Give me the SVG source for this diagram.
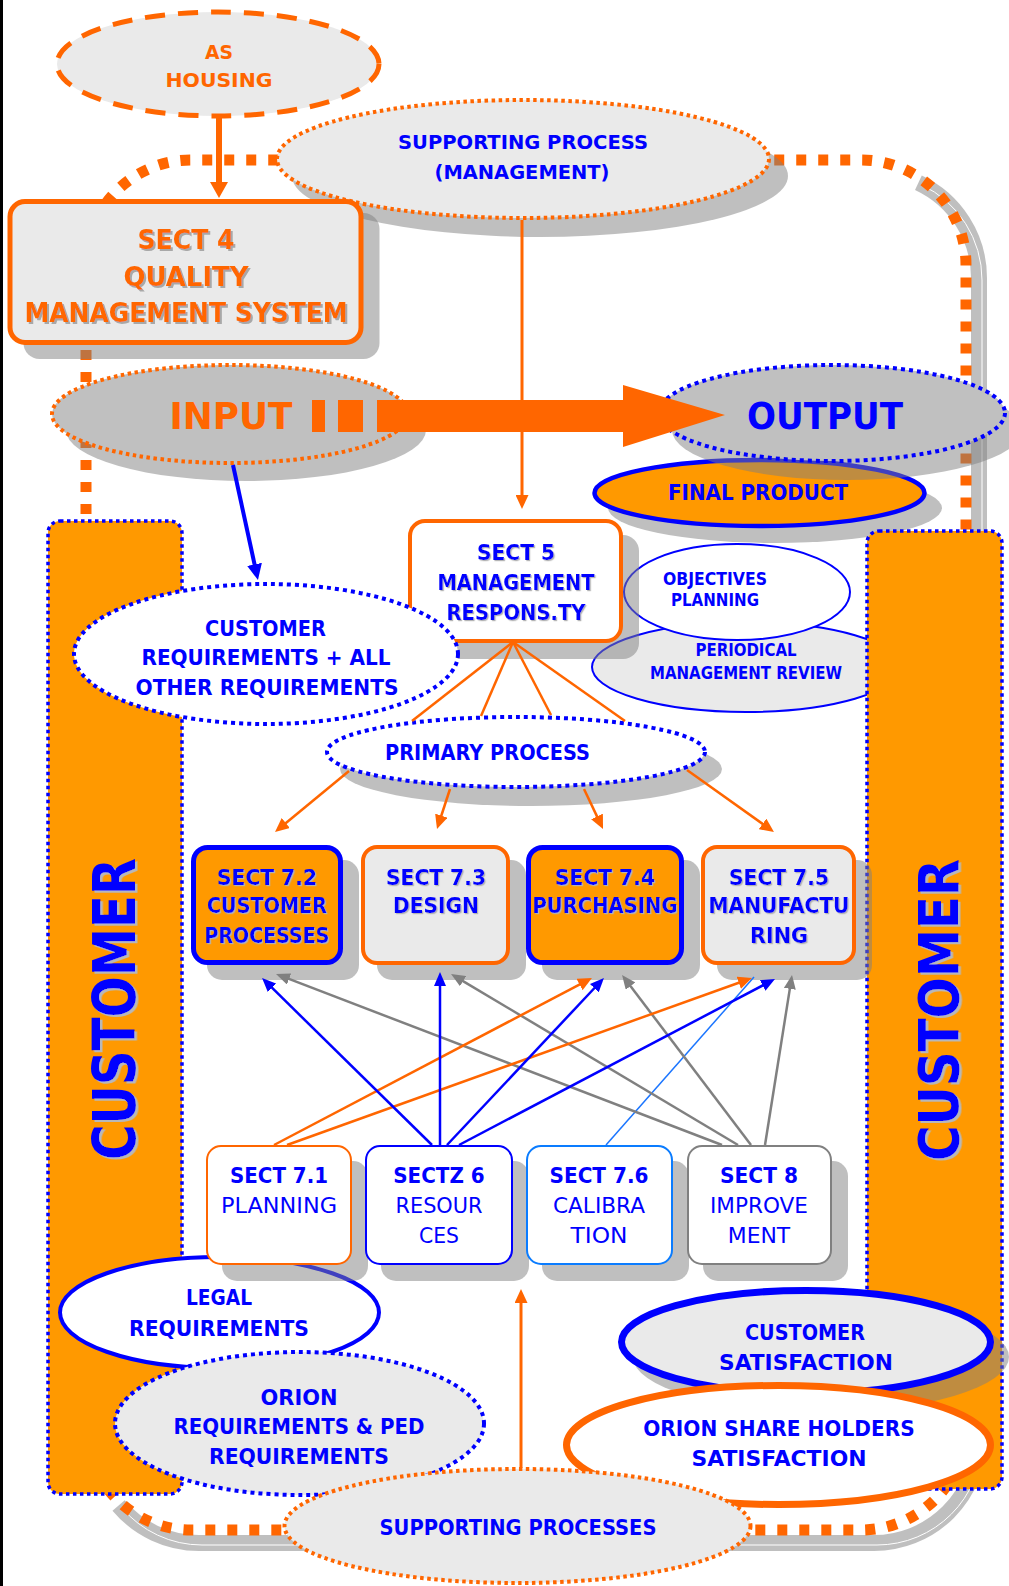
<svg xmlns="http://www.w3.org/2000/svg" width="1009" height="1586" viewBox="0 0 1009 1586">
<defs>
<style>
text{font-family:'DejaVu Sans','Liberation Sans',sans-serif;font-weight:bold;text-anchor:middle}
.reg{font-weight:normal}
.blue{fill:#0000ff}
.org{fill:#ff6600}
.shadow{fill:#808080;fill-opacity:.5}
.lt{fill:#eaeaea}
.wh{fill:#ffffff}
.bdot{stroke:#0000ff;stroke-width:4;stroke-dasharray:4 4}
.odot{stroke:#ff6600;stroke-width:4;stroke-dasharray:3.5 3.5}
.bar{fill:#ff9900;stroke:#0000ff;stroke-width:3.5;stroke-dasharray:3.5 3.5}
.ln{fill:none;stroke-width:2.5}
.lo{stroke:#ff6600}
.lb{stroke:#0000ff}
.lg{stroke:#808080}
</style>
<marker id="ahO" viewBox="0 0 14 13" refX="3" refY="6.5" markerWidth="14" markerHeight="13" markerUnits="userSpaceOnUse" orient="auto"><path d="M0,0L14,6.5L0,13z" fill="#ff6600"/></marker>
<marker id="ahB" viewBox="0 0 14 12" refX="3" refY="6" markerWidth="14" markerHeight="12" markerUnits="userSpaceOnUse" orient="auto"><path d="M0,0L14,6L0,12z" fill="#0000ff"/></marker>
<marker id="ahG" viewBox="0 0 14 12" refX="3" refY="6" markerWidth="14" markerHeight="12" markerUnits="userSpaceOnUse" orient="auto"><path d="M0,0L14,6L0,12z" fill="#808080"/></marker>
<marker id="ahOL" viewBox="0 0 16 18" refX="3" refY="9" markerWidth="16" markerHeight="18" markerUnits="userSpaceOnUse" orient="auto"><path d="M0,0L16,9L0,18z" fill="#ff6600"/></marker>
<marker id="ahBL" viewBox="0 0 16 15" refX="3" refY="7.5" markerWidth="16" markerHeight="15" markerUnits="userSpaceOnUse" orient="auto"><path d="M0,0L16,7.5L0,15z" fill="#0000ff"/></marker>
<filter id="tsh" x="-10%" y="-20%" width="130%" height="160%"><feDropShadow dx="2" dy="2" stdDeviation="0" flood-color="#a8a8a8"/></filter>
<filter id="tsh2" x="-10%" y="-20%" width="130%" height="160%"><feDropShadow dx="1.2" dy="1.2" stdDeviation="0" flood-color="#b4b4b4"/></filter>
<filter id="tsh3" x="-20%" y="-10%" width="150%" height="120%"><feDropShadow dx="2.5" dy="2" stdDeviation="0" flood-color="#b8b8b8"/></filter>
</defs>

<rect x="0" y="0" width="1009" height="1586" fill="#ffffff"/>
<rect x="0" y="0" width="3" height="1586" fill="#000000"/>

<!-- process loop: dotted ring with its shadow on the right and bottom -->
<g id="process-loop">
<path d="M918.4,182.8 A105,105 0 0 1 979,278 L979,1438 A105,105 0 0 1 874,1543 L199,1543 A105,105 0 0 1 118.6,1505.5" fill="none" stroke="#808080" stroke-opacity=".5" stroke-width="16"/>
<path d="M918.4,182.8 A105,105 0 0 1 979,278 L979,1438 A105,105 0 0 1 874,1543 L199,1543 A105,105 0 0 1 118.6,1505.5" fill="none" stroke="#ffffff" stroke-width="1" transform="translate(3,2)"/>
<path d="M86,265 A105,105 0 0 1 191,160 L861,160 A105,105 0 0 1 966,265 L966,1425 A105,105 0 0 1 861,1530 L191,1530 A105,105 0 0 1 86,1425 Z" fill="none" stroke="#ff6600" stroke-width="11" stroke-dasharray="10 12"/>
</g>

<g id="as-housing">
<ellipse cx="218" cy="64" rx="161" ry="52" class="lt" stroke="#ff6600" stroke-width="5" stroke-dasharray="20 13"/>
<text class="org" x="219" y="59" font-size="20" textLength="28" lengthAdjust="spacingAndGlyphs">AS</text>
<text class="org" x="219" y="87" font-size="20" textLength="107" lengthAdjust="spacingAndGlyphs">HOUSING</text>
</g>

<g id="supporting-process-management">
<ellipse class="shadow" cx="540" cy="176" rx="248" ry="61"/>
<ellipse cx="523" cy="159" rx="246" ry="59" class="lt odot"/>
<text class="blue" x="523" y="149" font-size="20" textLength="250" lengthAdjust="spacingAndGlyphs">SUPPORTING PROCESS</text>
<text class="blue" x="522" y="179" font-size="20" textLength="175" lengthAdjust="spacingAndGlyphs">(MANAGEMENT)</text>
</g>

<g id="sect4">
<rect class="shadow" x="23.5" y="213" width="356" height="146" rx="16"/>
<rect x="10" y="201.5" width="351" height="141" rx="15" class="lt" stroke="#ff6600" stroke-width="5"/>
<g filter="url(#tsh)">
<text class="org" x="186" y="249" font-size="27" textLength="97" lengthAdjust="spacingAndGlyphs">SECT 4</text>
<text class="org" x="186" y="286" font-size="27" textLength="125" lengthAdjust="spacingAndGlyphs">QUALITY</text>
<text class="org" x="186" y="322" font-size="27" textLength="323" lengthAdjust="spacingAndGlyphs">MANAGEMENT SYSTEM</text>
</g>
</g>

<g id="input">
<ellipse class="shadow" cx="246" cy="430" rx="180" ry="51"/>
<ellipse cx="230" cy="414" rx="178" ry="49" fill="#c0c0c0" class="odot"/>
<text class="org" x="231" y="428.5" font-size="37" textLength="123" lengthAdjust="spacingAndGlyphs">INPUT</text>
</g>

<g id="final-product">
<ellipse class="shadow" cx="775" cy="508" rx="167" ry="35"/>
<ellipse cx="759.5" cy="493" rx="165" ry="33" fill="#ff9900" stroke="#0000ff" stroke-width="4.5"/>
<text class="blue" x="758" y="499.5" font-size="21" textLength="180" lengthAdjust="spacingAndGlyphs">FINAL PRODUCT</text>
</g>

<g id="output">
<ellipse class="shadow" cx="847" cy="430" rx="175" ry="50"/>
<ellipse cx="832" cy="413" rx="173" ry="48" fill="#c0c0c0" class="bdot"/>
<text class="blue" x="825" y="428.5" font-size="37" textLength="156" lengthAdjust="spacingAndGlyphs">OUTPUT</text>
</g>

<g id="periodical-review">
<ellipse cx="746" cy="667" rx="154" ry="45" class="lt" stroke="#0000ff" stroke-width="2"/>
<text class="blue" x="746" y="656" font-size="17" textLength="101" lengthAdjust="spacingAndGlyphs">PERIODICAL</text>
<text class="blue" x="746" y="678.5" font-size="17" textLength="192" lengthAdjust="spacingAndGlyphs">MANAGEMENT REVIEW</text>
</g>

<g id="objectives-planning">
<ellipse cx="737" cy="592" rx="113" ry="48" class="wh" stroke="#0000ff" stroke-width="2"/>
<text class="blue" x="715" y="584.5" font-size="17" textLength="104" lengthAdjust="spacingAndGlyphs">OBJECTIVES</text>
<text class="blue" x="715" y="606" font-size="17" textLength="88" lengthAdjust="spacingAndGlyphs">PLANNING</text>
</g>

<g id="customer-right">
<rect x="867" y="531" width="135" height="958" rx="12" class="bar"/>
<g filter="url(#tsh3)">
<text class="blue" transform="translate(938,1010) rotate(-90)" x="0" y="20" font-size="56" textLength="302" lengthAdjust="spacingAndGlyphs">CUSTOMER</text>
</g>
</g>

<g id="customer-left">
<rect x="48" y="521" width="134" height="973" rx="12" class="bar"/>
<g filter="url(#tsh3)">
<text class="blue" transform="translate(113.5,1009) rotate(-90)" x="0" y="21.5" font-size="59" textLength="302" lengthAdjust="spacingAndGlyphs">CUSTOMER</text>
</g>
</g>

<g id="sect5">
<rect class="shadow" x="424" y="535" width="215" height="124" rx="16"/>
<rect x="410" y="521" width="211" height="120" rx="15" class="wh" stroke="#ff6600" stroke-width="4"/>
<g filter="url(#tsh2)">
<text class="blue" x="516" y="560" font-size="22" textLength="78" lengthAdjust="spacingAndGlyphs">SECT 5</text>
<text class="blue" x="516" y="590" font-size="22" textLength="157" lengthAdjust="spacingAndGlyphs">MANAGEMENT</text>
<text class="blue" x="516" y="620" font-size="22" textLength="139" lengthAdjust="spacingAndGlyphs">RESPONS.TY</text>
</g>
</g>

<g id="customer-requirements">
<ellipse cx="266" cy="654" rx="192" ry="70" class="wh bdot"/>
<text class="blue" x="265.5" y="636" font-size="21" textLength="121" lengthAdjust="spacingAndGlyphs">CUSTOMER</text>
<text class="blue" x="266" y="665" font-size="21" textLength="249" lengthAdjust="spacingAndGlyphs">REQUIREMENTS + ALL</text>
<text class="blue" x="267" y="694.5" font-size="21" textLength="263" lengthAdjust="spacingAndGlyphs">OTHER REQUIREMENTS</text>
</g>

<g id="primary-process">
<ellipse class="shadow" cx="531" cy="769" rx="191" ry="37"/>
<ellipse cx="516" cy="752" rx="189" ry="35" class="wh bdot"/>
<text class="blue" x="487.5" y="759.5" font-size="21" textLength="205" lengthAdjust="spacingAndGlyphs">PRIMARY PROCESS</text>
</g>

<g id="legal-requirements">
<ellipse cx="219.5" cy="1312.5" rx="159.5" ry="55.5" class="wh" stroke="#0000ff" stroke-width="4"/>
<text class="blue" x="219" y="1304.5" font-size="22" textLength="66" lengthAdjust="spacingAndGlyphs">LEGAL</text>
<text class="blue" x="219" y="1336" font-size="22" textLength="180" lengthAdjust="spacingAndGlyphs">REQUIREMENTS</text>
</g>

<!-- primary processes (section 7 row) -->
<g id="sect7-2">
<rect class="shadow" x="207" y="860" width="152" height="120" rx="15"/>
<rect x="193.5" y="847.5" width="147" height="115" rx="14" fill="#ff9900" stroke="#0000ff" stroke-width="5"/>
<g filter="url(#tsh2)">
<text class="blue" x="267" y="885" font-size="22" textLength="100" lengthAdjust="spacingAndGlyphs">SECT 7.2</text>
<text class="blue" x="267" y="913" font-size="22" textLength="120" lengthAdjust="spacingAndGlyphs">CUSTOMER</text>
<text class="blue" x="267" y="943" font-size="22" textLength="125" lengthAdjust="spacingAndGlyphs">PROCESSES</text>
</g>
</g>
<g id="sect7-3">
<rect class="shadow" x="377" y="860" width="149" height="120" rx="15"/>
<rect x="363" y="847" width="145" height="116" rx="14" class="lt" stroke="#ff6600" stroke-width="4"/>
<g filter="url(#tsh2)">
<text class="blue" x="436" y="885" font-size="22" textLength="100" lengthAdjust="spacingAndGlyphs">SECT 7.3</text>
<text class="blue" x="436" y="913" font-size="22" textLength="86" lengthAdjust="spacingAndGlyphs">DESIGN</text>
</g>
</g>
<g id="sect7-4">
<rect class="shadow" x="542" y="860" width="158" height="120" rx="15"/>
<rect x="528.5" y="847.5" width="153" height="115" rx="14" fill="#ff9900" stroke="#0000ff" stroke-width="5"/>
<g filter="url(#tsh2)">
<text class="blue" x="605" y="885" font-size="22" textLength="100" lengthAdjust="spacingAndGlyphs">SECT 7.4</text>
<text class="blue" x="605" y="913" font-size="22" textLength="145" lengthAdjust="spacingAndGlyphs">PURCHASING</text>
</g>
</g>
<g id="sect7-5">
<rect class="shadow" x="717" y="860" width="155" height="120" rx="15"/>
<rect x="703" y="847" width="151" height="116" rx="14" class="lt" stroke="#ff6600" stroke-width="4"/>
<g filter="url(#tsh2)">
<text class="blue" x="779" y="885" font-size="22" textLength="100" lengthAdjust="spacingAndGlyphs">SECT 7.5</text>
<text class="blue" x="779" y="913" font-size="22" textLength="141" lengthAdjust="spacingAndGlyphs">MANUFACTU</text>
<text class="blue" x="779" y="943" font-size="22" textLength="58" lengthAdjust="spacingAndGlyphs">RING</text>
</g>
</g>

<!-- supporting sections row -->
<g id="sect7-1">
<rect class="shadow" x="222" y="1161" width="146" height="120" rx="15"/>
<rect x="207" y="1146" width="144" height="118" rx="14" class="wh" stroke="#ff6600" stroke-width="2"/>
<text class="blue" x="279" y="1183" font-size="22" textLength="98" lengthAdjust="spacingAndGlyphs">SECT 7.1</text>
<text class="blue reg" x="279" y="1213" font-size="22" textLength="116" lengthAdjust="spacingAndGlyphs">PLANNING</text>
</g>
<g id="sect6">
<rect class="shadow" x="381" y="1161" width="148" height="120" rx="15"/>
<rect x="366" y="1146" width="146" height="118" rx="14" class="wh" stroke="#0000ff" stroke-width="2"/>
<text class="blue" x="439" y="1183" font-size="22" textLength="91.5" lengthAdjust="spacingAndGlyphs">SECTZ 6</text>
<text class="blue reg" x="439" y="1213" font-size="22" textLength="87" lengthAdjust="spacingAndGlyphs">RESOUR</text>
<text class="blue reg" x="439" y="1243" font-size="22" textLength="40" lengthAdjust="spacingAndGlyphs">CES</text>
</g>
<g id="sect7-6">
<rect class="shadow" x="542" y="1161" width="147" height="120" rx="15"/>
<rect x="527" y="1146" width="145" height="118" rx="14" class="wh" stroke="#0a7cff" stroke-width="2"/>
<text class="blue" x="599" y="1183" font-size="22" textLength="99" lengthAdjust="spacingAndGlyphs">SECT 7.6</text>
<text class="blue reg" x="599" y="1213" font-size="22" textLength="92" lengthAdjust="spacingAndGlyphs">CALIBRA</text>
<text class="blue reg" x="599" y="1243" font-size="22" textLength="57" lengthAdjust="spacingAndGlyphs">TION</text>
</g>
<g id="sect8">
<rect class="shadow" x="703" y="1161" width="145" height="120" rx="15"/>
<rect x="688" y="1146" width="143" height="118" rx="14" class="wh" stroke="#808080" stroke-width="2"/>
<text class="blue" x="759" y="1183" font-size="22" textLength="78" lengthAdjust="spacingAndGlyphs">SECT 8</text>
<text class="blue reg" x="759" y="1213" font-size="22" textLength="98" lengthAdjust="spacingAndGlyphs">IMPROVE</text>
<text class="blue reg" x="759" y="1243" font-size="22" textLength="62.5" lengthAdjust="spacingAndGlyphs">MENT</text>
</g>

<g id="orion-requirements">
<ellipse cx="299.5" cy="1423.5" rx="184.5" ry="71.5" class="lt bdot"/>
<text class="blue" x="299" y="1404.5" font-size="22" textLength="77" lengthAdjust="spacingAndGlyphs">ORION</text>
<text class="blue" x="299" y="1434" font-size="22" textLength="251" lengthAdjust="spacingAndGlyphs">REQUIREMENTS &amp; PED</text>
<text class="blue" x="299" y="1463.5" font-size="22" textLength="180" lengthAdjust="spacingAndGlyphs">REQUIREMENTS</text>
</g>

<g id="customer-satisfaction">
<ellipse class="shadow" cx="821" cy="1357" rx="188" ry="55"/>
<ellipse cx="806" cy="1342" rx="184.5" ry="51.5" class="lt" stroke="#0000ff" stroke-width="7"/>
<text class="blue" x="805" y="1339.5" font-size="22" textLength="120" lengthAdjust="spacingAndGlyphs">CUSTOMER</text>
<text class="blue" x="806" y="1370" font-size="22" textLength="174" lengthAdjust="spacingAndGlyphs">SATISFACTION</text>
</g>

<g id="shareholders-satisfaction">
<ellipse cx="778.5" cy="1445" rx="212" ry="59.5" class="wh" stroke="#ff6600" stroke-width="7"/>
<text class="blue" x="779" y="1435.5" font-size="22" textLength="271.5" lengthAdjust="spacingAndGlyphs">ORION SHARE HOLDERS</text>
<text class="blue" x="779" y="1466" font-size="22" textLength="175" lengthAdjust="spacingAndGlyphs">SATISFACTION</text>
</g>

<g id="supporting-processes">
<ellipse cx="517.5" cy="1526" rx="233" ry="57" class="lt odot"/>
<text class="blue" x="518" y="1534.5" font-size="22" textLength="277" lengthAdjust="spacingAndGlyphs">SUPPORTING PROCESSES</text>
</g>

<g id="connectors">
<!-- main flow arrow input to output -->
<rect x="312" y="400" width="13" height="32" fill="#ff6600"/>
<rect x="338" y="400" width="25" height="32" fill="#ff6600"/>
<polygon points="377,400 623,400 623,385 725,415 623,447 623,432 377,432" fill="#ff6600"/>

<line x1="219" y1="117" x2="219" y2="185" stroke="#ff6600" stroke-width="6" marker-end="url(#ahOL)"/>
<line x1="522" y1="220" x2="522" y2="498" stroke="#ff6600" stroke-width="3" marker-end="url(#ahO)"/>
<line x1="233" y1="465" x2="255.2" y2="567.3" stroke="#0000ff" stroke-width="4" marker-end="url(#ahBL)"/>

<!-- management responsibility to primary process -->
<g class="ln lo">
<line x1="513" y1="642" x2="412" y2="721"/>
<line x1="513" y1="642" x2="481" y2="716"/>
<line x1="513" y1="642" x2="551" y2="715"/>
<line x1="513" y1="642" x2="625" y2="721"/>
</g>

<!-- primary process to section 7 boxes -->
<g class="ln lo" marker-end="url(#ahO)">
<line x1="349" y1="771" x2="283.5" y2="825"/>
<line x1="450" y1="789" x2="440.4" y2="818.5"/>
<line x1="584" y1="789" x2="598.3" y2="819.1"/>
<line x1="687" y1="770" x2="765" y2="825.6"/>
</g>

<!-- supporting sections feeding section 7 -->
<line x1="606" y1="1145" x2="754" y2="977" stroke="#1a75ff" stroke-width="1.5"/>
<g class="ln lg" marker-end="url(#ahG)">
<line x1="722" y1="1145" x2="286.3" y2="977.9"/>
<line x1="738" y1="1145" x2="460.5" y2="979.6"/>
<line x1="751" y1="1145" x2="628.7" y2="983.7"/>
<line x1="765" y1="1145" x2="790.3" y2="985.9"/>
</g>
<g class="ln lo" marker-end="url(#ahO)">
<line x1="274" y1="1145" x2="582.2" y2="983.1"/>
<line x1="287" y1="1145" x2="741.6" y2="981.7"/>
</g>
<g class="ln lb" marker-end="url(#ahB)">
<line x1="432" y1="1145" x2="269.9" y2="985.7"/>
<line x1="440" y1="1145" x2="440" y2="983"/>
<line x1="447" y1="1145" x2="596.4" y2="986"/>
<line x1="459" y1="1145" x2="765.3" y2="984.1"/>
</g>

<line x1="521" y1="1468" x2="521" y2="1300" stroke="#ff6600" stroke-width="3" marker-end="url(#ahO)"/>
</g>
</svg>
